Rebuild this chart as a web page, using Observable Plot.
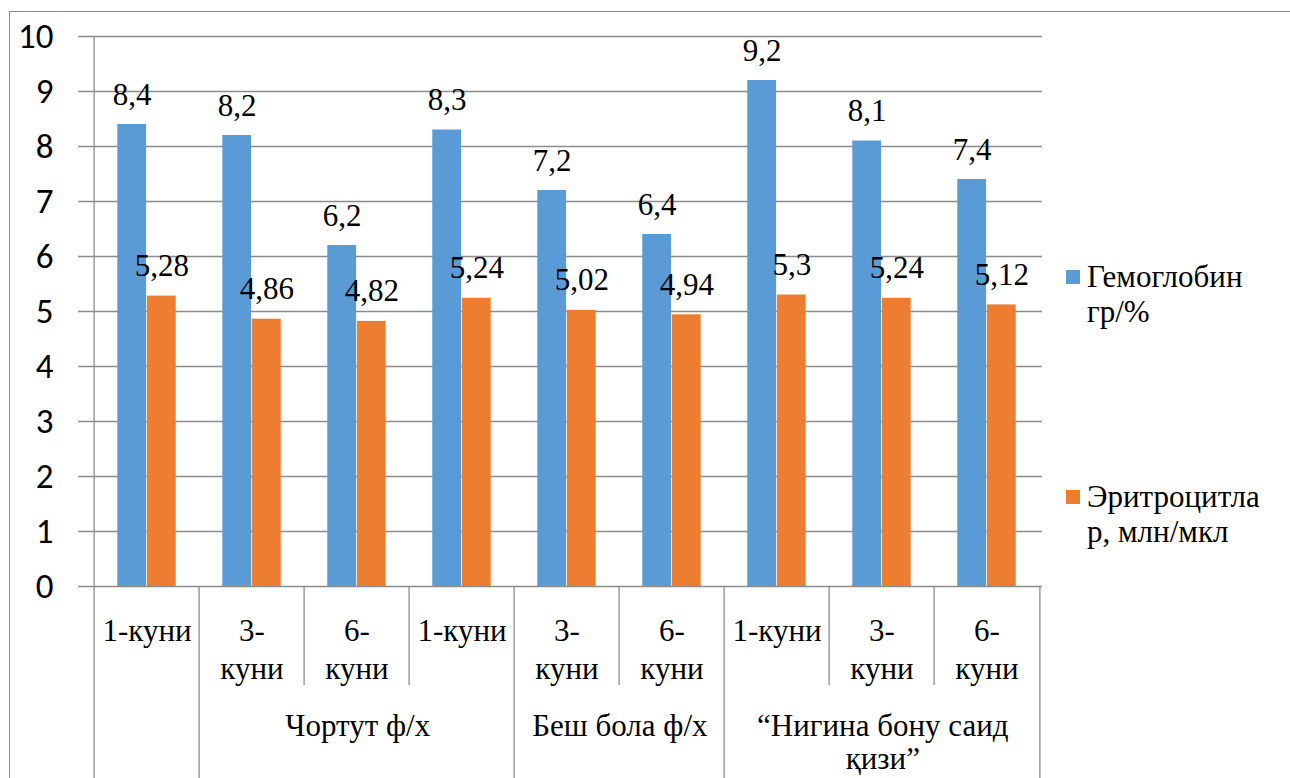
<!DOCTYPE html>
<html>
<head>
<meta charset="utf-8">
<script src="https://cdn.jsdelivr.net/npm/d3@7"></script>
<script src="https://cdn.jsdelivr.net/npm/@observablehq/plot@0.6"></script>
<style>
  html, body { margin: 0; padding: 0; background: #fff; }
  #wrap { position: relative; width: 1290px; height: 778px; overflow: hidden; }
</style>
</head>
<body>
<div id="wrap"></div>
<script>
// ---- data ----
const categoryLabels = ["1-куни", "3-\nкуни", "6-\nкуни", "1-куни", "3-\nкуни", "6-\nкуни", "1-куни", "3-\nкуни", "6-\nкуни"];
const seriesNames = ["Гемоглобин\nгр/%", "Эритроцитла\nр, млн/мкл"];
const hemoglobin = [8.4, 8.2, 6.2, 8.3, 7.2, 6.4, 9.2, 8.1, 7.4];
const erythrocytes = [5.28, 4.86, 4.82, 5.24, 5.02, 4.94, 5.3, 5.24, 5.12];
const groupLabels = ["", "Чортут ф/х", "Беш бола ф/х", "“Нигина бону саид\nқизи”"];
const groupStart = [0, 1, 4, 6];
const groupEnd = [0, 3, 5, 8];
const yTicks = [0, 1, 2, 3, 4, 5, 6, 7, 8, 9, 10];
const colors = ["#5B9BD5", "#ED7D31"];

// ---- layout ----
const W = 1290, H = 778, ML = 90, MR = 248, MT = 36, MB = 192;
const n = categoryLabels.length;
const step = (W - ML - MR) / n;
const barW = 29.6;
const outer = (step - 2 * barW) / 2;
const frameH = H - MT - MB;
const gridColor = "#8c8c8c";
const SERIF = "Liberation Serif";

const keys = categoryLabels.map((_, i) => "c" + i);
const cats = keys.map((k, i) => ({key: k, label: categoryLabels[i]}));
const rowsA = keys.map((k, i) => ({key: k, value: hemoglobin[i]}));
const rowsB = keys.map((k, i) => ({key: k, value: erythrocytes[i]}));
const fmt = v => String(v).replace(".", ",");

const longIdx = new Set(groupStart);
const shortBounds = keys.filter((k, i) => i > 0 && !longIdx.has(i));
const longBounds = keys.filter((k, i) => i > 0 && longIdx.has(i));

const txt = {fontFamily: SERIF, fontSize: 31, fill: "#000"};

const groupMarks = groupLabels.map((g, gi) => {
  const s = groupStart[gi], e = groupEnd[gi];
  return Plot.text([g], {
    x: () => keys[s], text: d => d,
    dx: (e - s) * step / 2,
    frameAnchor: "bottom", lineAnchor: "top", dy: 126,
    lineHeight: 1.06, ...txt
  });
});

const plot = Plot.plot({
  width: W, height: H,
  marginLeft: ML, marginRight: MR, marginTop: MT, marginBottom: MB,
  x: {type: "band", domain: keys, padding: 0, axis: null},
  y: {domain: [0, 10], axis: null},
  style: {background: "transparent", fontFamily: SERIF},
  marks: [
    Plot.ruleY(yTicks, {stroke: gridColor, strokeWidth: 1.3, insetLeft: -12}),
    Plot.axisY({ticks: yTicks, tickSize: 0, tickPadding: 37, fontSize: 35,
                fontFamily: "Carlito", fill: "#000", label: null, tickFormat: d => d}),
    Plot.barY(rowsA, {x: "key", y: "value", fill: colors[0], insetLeft: outer, insetRight: step / 2}),
    Plot.barY(rowsB, {x: "key", y: "value", fill: colors[1], insetLeft: step / 2, insetRight: outer}),
    Plot.text(rowsA, {x: "key", y: "value", text: d => fmt(d.value), dx: -barW / 2, dy: -20,
                      lineAnchor: "bottom", ...txt}),
    Plot.text(rowsB, {x: "key", y: "value", text: d => fmt(d.value), dx: barW / 2, dy: -20,
                      lineAnchor: "bottom", ...txt}),
    Plot.ruleX([keys[0]], {x: d => d, dx: -step / 2, insetBottom: -MB, stroke: gridColor, strokeWidth: 1.3}),
    Plot.ruleX(longBounds, {x: d => d, dx: -step / 2, insetTop: frameH, insetBottom: -MB, stroke: gridColor, strokeWidth: 1.3}),
    Plot.ruleX([keys[n - 1]], {x: d => d, dx: step / 2, insetTop: frameH, insetBottom: -MB, stroke: gridColor, strokeWidth: 1.3}),
    Plot.ruleX(shortBounds, {x: d => d, dx: -step / 2, insetTop: frameH, insetBottom: -99, stroke: gridColor, strokeWidth: 1.3}),
    Plot.text(cats, {x: "key", text: "label", frameAnchor: "bottom", lineAnchor: "top", dy: 28,
                     lineHeight: 1.22, ...txt}),
    ...groupMarks
  ]
});

const wrap = document.getElementById("wrap");
wrap.appendChild(plot);

// outer chart border (top and left edges visible in the reference)
const border = document.createElement("div");
border.setAttribute("style", "position:absolute;left:9px;top:11px;width:1400px;height:900px;border-top:1.5px solid #8c8c8c;border-left:1.5px solid #8c8c8c;pointer-events:none;");
wrap.appendChild(border);

// legend
const legTops = [259, 479];
const swTops = [270, 490];
seriesNames.forEach((name, i) => {
  const sw = document.createElement("div");
  sw.setAttribute("style", `position:absolute;left:1066px;top:${swTops[i]}px;width:14px;height:14px;background:${colors[i]};`);
  wrap.appendChild(sw);
  const t = document.createElement("div");
  t.setAttribute("style", `position:absolute;left:1087px;top:${legTops[i]}px;font-family:'Liberation Serif';font-size:31px;line-height:35px;color:#000;white-space:pre;`);
  t.textContent = name;
  wrap.appendChild(t);
});
</script>
</body>
</html>
